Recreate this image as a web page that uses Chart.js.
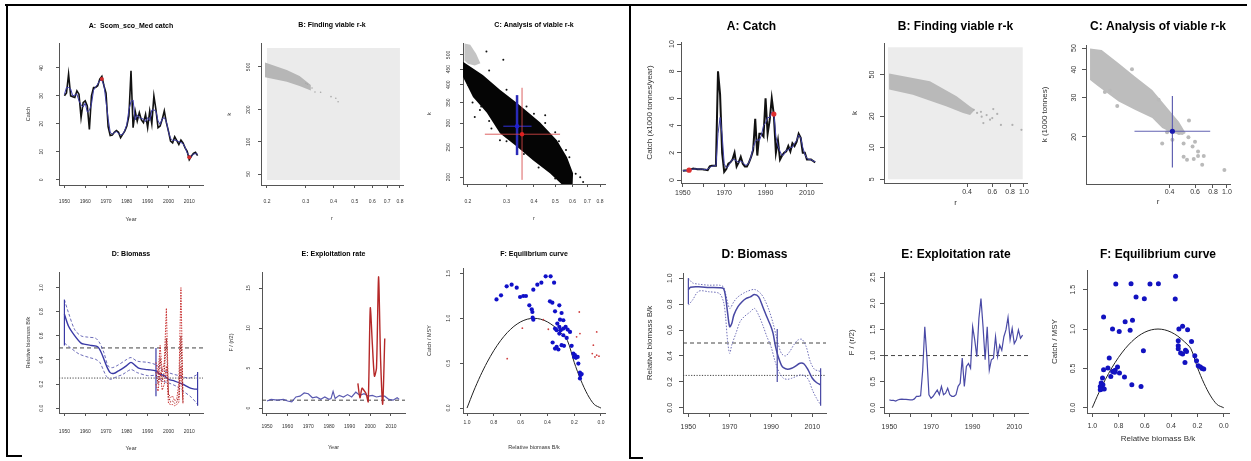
<!DOCTYPE html>
<html>
<head>
<meta charset="utf-8">
<script src="https://cdn.jsdelivr.net/npm/chart.js@4.4.1/dist/chart.umd.min.js"></script>
<style>
  html, body { margin: 0; padding: 0; background: #fff; }
  body { width: 1251px; height: 461px; position: relative; overflow: hidden; }
  canvas { position: absolute; }
  .rule { position: absolute; background: #000; }
</style>
</head>
<body>
<div class="rule" style="left:5px;top:4px;width:1242px;height:2px"></div>
<div class="rule" style="left:6px;top:4px;width:2px;height:453px"></div>
<div class="rule" style="left:6px;top:455px;width:16px;height:2px"></div>
<div class="rule" style="left:629px;top:4px;width:2px;height:455px"></div>
<div class="rule" style="left:629px;top:457px;width:14px;height:2px"></div>
<script>
// ──────────────────────────────────────────────
//  Datos: figura izquierda (Scom_sco_Med)
// ──────────────────────────────────────────────

const years = [
  1950, 1951, 1952, 1953, 1954, 1955, 1956, 1957, 1958, 1959,
  1960, 1961, 1962, 1963, 1964, 1965, 1966, 1967, 1968, 1969,
  1970, 1971, 1972, 1973, 1974, 1975, 1976, 1977, 1978, 1979,
  1980, 1981, 1982, 1983, 1984, 1985, 1986, 1987, 1988, 1989,
  1990, 1991, 1992, 1993, 1994, 1995, 1996, 1997, 1998, 1999,
  2000, 2001, 2002, 2003, 2004, 2005, 2006, 2007, 2008, 2009,
  2010, 2011, 2012, 2013, 2014,
];
const decadeTicks = [1950, 1960, 1970, 1980, 1990, 2000, 2010];

const catchL = [
  30, 31, 37.8, 30, 29.7, 29.4, 31.8, 30.6, 22.2, 27.6,
  28.2, 26.4, 18, 30, 33, 33, 33.6, 36, 37, 33.6,
  31, 19, 15.8, 16, 17, 17.6, 17, 15, 16.2, 17.4,
  19.2, 22.8, 39, 18.6, 24.6, 21, 24, 21.4, 20.4, 23.4,
  18.6, 24.6, 20, 30, 25, 18.6, 19.2, 21.6, 24.6, 20.4,
  17.4, 13.8, 13.2, 15.4, 14, 12.6, 14.2, 13.2, 11.4, 10.2,
  7.2, 8.4, 9.4, 9.8, 8.6,
];
const catchAvgL = [
  30.5, 33, 33, 32.5, 30, 30.3, 30.6, 28.2, 26.8, 26,
  27.4, 24.2, 24.8, 27, 32, 33.2, 34.2, 35.5, 35.5, 33.9,
  27.9, 21.9, 17, 16.3, 16.9, 17.2, 16.5, 16.1, 16.2, 17.6,
  19.8, 25, 28, 28.5, 21.4, 23.2, 22.1, 21.9, 21.7, 20.8,
  22.2, 21.1, 24.9, 25, 24.5, 21, 19.8, 21.8, 22.2, 20.8,
  17.2, 14.8, 14.1, 14.2, 14, 13.6, 13.3, 12.9, 11.6, 9.6,
  8.6, 8.3, 9.2, 9.3, 9.2,
];
const catchMarksL = [[1968, 36], [2010, 8]];

const priorBoxL = [[0.2, 44], [0.8, 44], [0.8, 750], [0.2, 750]];
const viableBandL = [[0.196, 550], [0.246, 469], [0.281, 412], [0.316, 340], [0.316, 301], [0.281, 332], [0.246, 364], [0.196, 400]];
const viableDotsL = [[0.33, 292], [0.35, 290], [0.39, 264], [0.41, 255], [0.42, 237], [0.32, 318], [0.305, 345], [0.3, 352]];

const cloudL = [
  [0.19, 475], [0.234, 430], [0.28, 385], [0.335, 349], [0.426, 302], [0.509, 264], [0.566, 232], [0.603, 206], [0.6, 188],
  [0.542, 188], [0.473, 206], [0.396, 227], [0.335, 251], [0.28, 278], [0.244, 324], [0.211, 365], [0.19, 424],
];
const cloudGreyL = [[0.193, 545], [0.205, 540], [0.218, 505], [0.228, 470], [0.215, 462], [0.2, 468], [0.193, 480]];
const cloudOutL = [
  [0.243, 513], [0.29, 482], [0.28, 264], [0.256, 288], [0.67, 193], [0.65, 200], [0.215, 314], [0.227, 331], [0.62, 205],
  [0.45, 318], [0.5, 280], [0.25, 445], [0.3, 385], [0.37, 340], [0.45, 300], [0.52, 262], [0.58, 232], [0.21, 350],
  [0.25, 305], [0.3, 262], [0.36, 238], [0.42, 215], [0.5, 198], [0.2, 400], [0.23, 340], [0.56, 245], [0.4, 322],
];
const bestRkL = [0.335, 293];
const bestRkRangeL = { r: [0.29, 0.39], k: [236, 370] };
const altRkL = [0.353, 276];
const altRkRangeL = { r: [0.239, 0.526], k: [196, 391] };

const bioYearsL = [1950, 1952, 1955, 1958, 1960, 1963, 1966, 1968, 1970, 1972, 1974, 1976, 1978, 1980, 1982, 1984, 1986, 1990, 1994, 1996, 1998, 2000, 2003, 2006, 2008, 2010, 2012, 2014];
const bioMedL = [0.78, 0.68, 0.6, 0.54, 0.53, 0.52, 0.51, 0.45, 0.36, 0.295, 0.29, 0.31, 0.33, 0.355, 0.38, 0.355, 0.33, 0.32, 0.31, 0.28, 0.27, 0.24, 0.225, 0.205, 0.19, 0.17, 0.16, 0.157];
const bioHiYearsL = [1950, 1952, 1955, 1958, 1961, 1965, 1967, 1969, 1971, 1973, 1976, 1980, 1982, 1985, 1990, 1994, 1997, 2000, 2005, 2010, 2014];
const bioHiL = [0.9, 0.79, 0.65, 0.6, 0.59, 0.58, 0.54, 0.46, 0.35, 0.336, 0.36, 0.405, 0.42, 0.39, 0.38, 0.36, 0.32, 0.295, 0.27, 0.25, 0.28];
const bioLoYearsL = [1950, 1953, 1957, 1962, 1965, 1967, 1970, 1972, 1975, 1978, 1982, 1985, 1990, 1994, 1997, 2000, 2004, 2008, 2011, 2014];
const bioLoL = [0.54, 0.5, 0.45, 0.42, 0.405, 0.38, 0.27, 0.24, 0.26, 0.28, 0.32, 0.295, 0.27, 0.27, 0.226, 0.21, 0.18, 0.13, 0.09, 0.033];
const bioBarsL = [[1950, 0.52, 0.9], [1994, 0.1, 0.5], [2014, 0.02, 0.3]];
const cpueYearsL = [1994, 1995, 1996, 1997, 1998, 1999, 2000, 2001, 2002, 2003, 2004, 2005, 2006, 2007];
const cpueMidL = [0.3, 0.2, 0.42, 0.22, 0.3, 0.58, 0.1, 0.05, 0.06, 0.04, 0.05, 0.1, 0.6, 0.05];
const cpueHiL = [0.38, 0.28, 0.52, 0.3, 0.38, 0.83, 0.12, 0.09, 0.1, 0.06, 0.08, 0.2, 1.0, 0.08];
const cpueLoL = [0.2, 0.14, 0.3, 0.15, 0.2, 0.35, 0.04, 0.03, 0.03, 0.02, 0.03, 0.05, 0.35, 0.03];

const fYearsL = [1950, 1952, 1955, 1958, 1960, 1962, 1964, 1966, 1968, 1970, 1972, 1974, 1976, 1978, 1980, 1981, 1982, 1983, 1985, 1987, 1989, 1991, 1993, 1995, 1997, 1999, 2001, 2003, 2005, 2007, 2009, 2011, 2013, 2014];
const fRateL = [0.9, 1.1, 1.0, 1.1, 0.9, 0.8, 1.4, 1.5, 1.9, 1.8, 1.3, 1.4, 1.1, 1.4, 1.1, 1.2, 2.1, 1.2, 1.6, 1.4, 1.7, 1.4, 2.0, 1.6, 1.8, 1.5, 1.6, 1.4, 1.5, 1.5, 1.1, 1.0, 1.3, 1.1];
const fCpueYearsL = [1994, 1995, 1996, 1997, 1998, 1999, 2000, 2001, 2002, 2003, 2004, 2005, 2006, 2007];
const fCpueL = [3.1, 1.3, 2.5, 2.2, 1.8, 0.8, 12.5, 8.0, 4.0, 5.0, 16.4, 6.0, 0.5, 8.7];

// curva de equilibrio (compartida por ambos paneles F)
const eqBk = [1.0, 0.95, 0.9, 0.85, 0.8, 0.75, 0.7, 0.65, 0.6, 0.55, 0.5, 0.45, 0.4, 0.35, 0.3, 0.25, 0.2, 0.15, 0.1, 0.05, 0.0];
const eqCatch = [0, 0.19, 0.36, 0.51, 0.64, 0.75, 0.84, 0.91, 0.96, 0.99, 1.0, 0.99, 0.96, 0.91, 0.84, 0.75, 0.51, 0.31, 0.15, 0.04, 0];

const eqPointsL = [
  [0.78, 1.21], [0.746, 1.256], [0.704, 1.356], [0.667, 1.374], [0.629, 1.341], [0.604, 1.237], [0.58, 1.248], [0.56, 1.248],
  [0.535, 1.144], [0.517, 1.1], [0.512, 1.07], [0.51, 1.007], [0.505, 0.985], [0.505, 1.319], [0.475, 1.374], [0.445, 1.396],
  [0.413, 1.467], [0.376, 1.467], [0.35, 1.396], [0.381, 1.189], [0.363, 1.174], [0.343, 1.078], [0.311, 1.144], [0.294, 1.059],
  [0.306, 0.985], [0.281, 0.978], [0.326, 0.941], [0.343, 0.885], [0.331, 0.867], [0.311, 0.904], [0.301, 0.867], [0.281, 0.885],
  [0.264, 0.904], [0.249, 0.874], [0.231, 0.848], [0.311, 0.83], [0.281, 0.811], [0.256, 0.781], [0.361, 0.73], [0.331, 0.681],
  [0.343, 0.663], [0.318, 0.652], [0.294, 0.7], [0.276, 0.693], [0.219, 0.693], [0.206, 0.607], [0.194, 0.589], [0.187, 0.559],
  [0.201, 0.57], [0.174, 0.57], [0.169, 0.496], [0.157, 0.396], [0.152, 0.367], [0.157, 0.33], [0.144, 0.378],
];
const eqCpueL = [[0.7, 0.55], [0.587, 0.89], [0.43, 0.985], [0.393, 0.878], [0.162, 1.07], [0.157, 0.83], [0.182, 0.793], [0.032, 0.848], [0.057, 0.7], [0.065, 0.607], [0.045, 0.57], [0.032, 0.589], [0.015, 0.578]];

// ──────────────────────────────────────────────
//  Datos: figura derecha
// ──────────────────────────────────────────────

const catchR = [
  0.68, 0.7, 0.7, 0.72, 0.78, 0.85, 0.82, 0.8, 0.8, 0.8,
  0.78, 0.75, 0.72, 1.0, 1.05, 1.05, 1.05, 8.0, 6.3, 2.0,
  0.6, 0.8, 1.2, 1.3, 1.5, 2.0, 1.0, 1.3, 1.7, 1.2,
  1.0, 1.0, 1.3, 1.7, 2.2, 4.5, 1.8, 3.4, 3.4, 3.2,
  6.0, 3.4, 4.4, 6.0, 4.8, 2.0, 2.9, 1.5, 1.8, 2.0,
  2.1, 2.5, 2.1, 2.7, 2.5, 2.8, 3.4, 3.1, 2.0, 2.0,
  1.5, 1.5, 1.5, 1.4, 1.3,
];
const catchAvgR = [
  0.69, 0.69, 0.7, 0.73, 0.77, 0.8, 0.82, 0.81, 0.8, 0.8,
  0.79, 0.76, 0.8, 0.92, 1.0, 1.05, 1.05, 3.4, 4.6, 3.3,
  1.2, 0.9, 1.0, 1.3, 1.5, 1.5, 1.4, 1.3, 1.4, 1.3,
  1.1, 1.1, 1.3, 1.7, 2.4, 2.8, 3.0, 2.9, 3.3, 4.0,
  4.2, 4.6, 4.6, 5.0, 4.9, 3.2, 2.5, 2.1, 1.8, 1.9,
  2.2, 2.2, 2.4, 2.4, 2.7, 2.9, 3.3, 3.1, 2.4, 1.9,
  1.6, 1.5, 1.5, 1.4, 1.35,
];
const catchMarksR = [[1953, 0.72], [1994, 4.85]];

const priorBoxR = [[0.112, 5], [0.98, 5], [0.98, 91], [0.112, 91]];
const viableBandR = [[0.114, 51], [0.22, 43], [0.338, 31], [0.42, 24.8], [0.454, 23], [0.42, 20.5], [0.375, 21.4], [0.288, 24.8], [0.167, 32.1], [0.114, 35.9]];
const viableDotsR = [[0.445, 23], [0.506, 19.8], [0.548, 20.5], [0.61, 23.4], [0.52, 17.2], [0.579, 18.5], [0.6, 19.2], [0.69, 16.5], [0.83, 16.5], [0.96, 14.8], [0.47, 21.5], [0.5, 22], [0.65, 21]];

const cloudR = [
  [0.112, 49.8], [0.135, 49], [0.177, 42.7], [0.231, 37.2], [0.303, 32.4], [0.396, 26.4], [0.464, 23.4], [0.517, 20.8],
  [0.49, 20.4], [0.418, 20.8], [0.355, 21.9], [0.303, 24.3], [0.231, 26.4], [0.177, 28.8], [0.128, 33.6], [0.112, 36],
];
const cloudDotsR = [
  [0.142, 31.8], [0.154, 32.2], [0.173, 27.5], [0.219, 40.2], [0.335, 29.3], [0.418, 22.2], [0.384, 21], [0.355, 18.7],
  [0.418, 19.4], [0.464, 20.8], [0.545, 23.7], [0.5, 18.7], [0.54, 19.9], [0.577, 18.1], [0.6, 19], [0.63, 17.2],
  [0.5, 16.3], [0.528, 15.8], [0.588, 15.9], [0.63, 16.4], [0.673, 15], [0.69, 16.4], [0.96, 14.2],
];
const bestRkR = [0.418, 21.2];
const bestRkRangeR = { r: [0.228, 0.765], k: [14.6, 30.5] };

const bioYearsR = [1950, 1951, 1955, 1960, 1965, 1967, 1968, 1969, 1970, 1971, 1972, 1974, 1976, 1978, 1980, 1982, 1984, 1986, 1988, 1990, 1991, 1992, 1993, 1994, 1995, 1996, 1998, 2000, 2002, 2004, 2006, 2008, 2010, 2012, 2014];
const bioMedR = [0.91, 0.93, 0.933, 0.928, 0.926, 0.92, 0.856, 0.73, 0.626, 0.65, 0.715, 0.78, 0.818, 0.844, 0.856, 0.874, 0.856, 0.78, 0.7, 0.626, 0.574, 0.485, 0.42, 0.37, 0.33, 0.31, 0.297, 0.305, 0.323, 0.344, 0.338, 0.29, 0.228, 0.195, 0.177];
const bioHiYearsR = [1950, 1952, 1955, 1960, 1965, 1967, 1968, 1970, 1972, 1974, 1978, 1982, 1985, 1987, 1989, 1991, 1993, 1995, 1997, 1999, 2001, 2003, 2005, 2007, 2009, 2011, 2013, 2014];
const bioHiR = [1.0, 0.964, 0.954, 0.946, 0.946, 0.933, 0.88, 0.767, 0.818, 0.856, 0.895, 0.913, 0.882, 0.831, 0.754, 0.651, 0.523, 0.42, 0.4, 0.433, 0.485, 0.523, 0.528, 0.472, 0.356, 0.297, 0.285, 0.28];
const bioLoYearsR = [1950, 1952, 1955, 1960, 1965, 1967, 1968, 1969, 1970, 1971, 1973, 1975, 1977, 1980, 1982, 1984, 1986, 1988, 1990, 1992, 1994, 1996, 1998, 2000, 2002, 2004, 2006, 2008, 2010, 2012, 2014];
const bioLoR = [0.792, 0.831, 0.9, 0.895, 0.882, 0.818, 0.703, 0.51, 0.42, 0.485, 0.574, 0.664, 0.703, 0.741, 0.767, 0.715, 0.638, 0.549, 0.472, 0.356, 0.272, 0.228, 0.22, 0.228, 0.241, 0.254, 0.249, 0.22, 0.138, 0.074, 0.023];
const bioBarsR = [[1950, 0.8, 1.0], [1993, 0.2, 0.608], [2014, 0.015, 0.305]];

const fRateR = [
  0.15, 0.14, 0.14, 0.13, 0.15, 0.16, 0.165, 0.16, 0.16, 0.155,
  0.15, 0.15, 0.17, 0.22, 0.22, 0.23, 0.72, 1.55, 0.98, 0.25,
  0.18, 0.22, 0.28, 0.34, 0.25, 0.41, 0.25, 0.28, 0.375, 0.25,
  0.22, 0.22, 0.25, 0.41, 0.47, 0.95, 0.41, 0.79, 0.85, 0.76,
  1.55, 1.3, 0.98, 1.71, 2.09, 1.55, 0.92, 1.55, 0.72, 0.92,
  0.95, 1.36, 0.98, 1.2, 1.1, 1.36, 1.49, 1.73, 1.3, 1.52,
  1.23, 1.3, 1.49, 1.33, 1.39,
];

const eqPointsR = [
  [0.914, 1.153], [0.821, 1.572], [0.705, 1.576], [0.561, 1.572], [0.497, 1.576], [0.366, 1.669], [0.667, 1.407], [0.604, 1.386],
  [0.369, 1.381], [0.75, 1.093], [0.694, 1.11], [0.846, 1.0], [0.795, 0.97], [0.712, 0.983], [0.611, 0.725], [0.341, 1.0],
  [0.313, 1.034], [0.275, 0.992], [0.245, 0.843], [0.346, 0.852], [0.346, 0.788], [0.346, 0.75], [0.328, 0.695], [0.313, 0.682],
  [0.291, 0.729], [0.283, 0.716], [0.295, 0.576], [0.22, 0.661], [0.207, 0.597], [0.194, 0.534], [0.177, 0.517], [0.164, 0.5],
  [0.152, 0.492], [0.871, 0.631], [0.881, 0.504], [0.859, 0.398], [0.838, 0.462], [0.826, 0.475], [0.808, 0.517], [0.793, 0.441],
  [0.755, 0.39], [0.699, 0.292], [0.629, 0.271], [0.914, 0.483], [0.922, 0.377], [0.932, 0.314], [0.919, 0.292], [0.939, 0.271],
  [0.927, 0.237], [0.909, 0.237], [0.939, 0.229], [0.845, 0.46], [0.83, 0.45],
];

// ──────────────────────────────────────────────
//  Helpers
// ──────────────────────────────────────────────

const FONT = "'Liberation Sans', Arial, Helvetica, sans-serif";
const AXIS_COL = '#555';
const TEXT_COL = '#333';
const SMALL = { tick: 5, axis: 5.5, title: 7, tl: 3 };
const BIG = { tick: 7, axis: 8, title: 12, tl: 4 };

const meter = document.createElement('canvas').getContext('2d');
function textWidth(str, size) {
  meter.font = `${size}px ${FONT}`;
  return meter.measureText(str).width;
}

const toXY = (xs, ys) => xs.map((x, i) => ({ x, y: ys[i] }));
const toPts = arr => arr.map(([x, y]) => ({ x, y }));
const dec1 = v => v.toFixed(1);
const plain = v => String(v);
const everyOther = v => ((v - 1950) % 20 === 0 ? String(v) : '');

function serie(data, color, width, dash) {
  return { data, showLine: true, borderColor: color, borderWidth: width, borderDash: dash || [], pointRadius: 0, fill: false };
}
function dots(data, color, radius) {
  return { data, showLine: false, pointRadius: radius, pointBackgroundColor: color, pointBorderWidth: 0, pointBorderColor: color };
}
function patch(data, color) {
  return { data, showLine: true, fill: 'shape', backgroundColor: color, borderColor: 'rgba(0,0,0,0)', borderWidth: 0, pointRadius: 0 };
}
function hline(y, x0, x1, color, dash) {
  return serie([{ x: x0, y }, { x: x1, y }], color, 1, dash);
}
function vbar(x, y0, y1, color, width) {
  return serie([{ x, y: y0 }, { x, y: y1 }], color, width);
}

// ──────────────────────────────────────────────
//  Constructor de cada panel
// ──────────────────────────────────────────────

function panel(spec, datasets) {
  const s = spec.big ? BIG : SMALL;
  const [l, t, r, b] = spec.area;
  const cl = spec.yTitleX - 8;
  const ct = spec.titleY - 10;
  const cr = r + 6;
  const cb = (spec.xTitle ? spec.xTitleY : spec.xTickY) + 8;

  const cv = document.createElement('canvas');
  cv.width = cr - cl;
  cv.height = cb - ct;
  cv.style.left = cl + 'px';
  cv.style.top = ct + 'px';
  document.body.appendChild(cv);

  const titleLH = s.title * 1.2;
  const axisLH = s.axis * 1.2;
  const tickLH = s.tick * 1.2;
  const titlePadTop = spec.titleY - ct - titleLH / 2;
  const titlePadBottom = t - ct - titlePadTop - titleLH;
  const widest = Math.max(...spec.yTicks.map(v => textWidth(spec.yFmt(v), s.tick)));
  const yPad = l - spec.yTickX - s.tl - widest / 2;
  const xPad = spec.xTickY - b - s.tl - tickLH / 2;

  const grid = { display: true, drawOnChartArea: false, drawTicks: true, tickLength: s.tl, color: AXIS_COL, lineWidth: 1 };
  const border = { display: true, color: AXIS_COL, width: 1 };
  const tickFont = { family: FONT, size: s.tick };
  const axisFont = { family: FONT, size: s.axis };
  const zeroPad = sc => { sc.paddingLeft = 0; sc.paddingRight = 0; sc.paddingTop = 0; sc.paddingBottom = 0; };
  const n = datasets.length;

  return new Chart(cv, {
    type: 'scatter',
    data: { datasets: datasets.map((d, i) => Object.assign({ order: n - i }, d)) },
    options: {
      responsive: false,
      animation: false,
      events: [],
      layout: { padding: { left: 0, top: 0, bottom: 0, right: cr - r } },
      plugins: {
        legend: { display: false },
        tooltip: { enabled: false },
        title: {
          display: true, text: spec.title, fullSize: false, color: '#000',
          font: { family: FONT, size: s.title, weight: 'bold', lineHeight: 1.2 },
          padding: { top: titlePadTop, bottom: titlePadBottom },
        },
      },
      scales: {
        x: {
          type: spec.xType || 'linear', min: spec.xMin, max: spec.xMax, reverse: !!spec.xReverse,
          border, grid,
          ticks: { autoSkip: false, minRotation: 0, maxRotation: 0, padding: xPad, color: TEXT_COL, font: tickFont, callback: v => spec.xFmt(v) },
          afterBuildTicks: sc => { sc.ticks = spec.xTicks.map(v => ({ value: v })); },
          afterFit: sc => { sc.height = cb - b; zeroPad(sc); },
          title: {
            display: !!spec.xTitle, text: spec.xTitle || '', color: TEXT_COL, font: axisFont,
            padding: { top: 0, bottom: cb - (spec.xTitleY || 0) - axisLH / 2 },
          },
        },
        y: {
          type: spec.yType || 'linear', min: spec.yMin, max: spec.yMax,
          border, grid,
          ticks: { autoSkip: false, minRotation: 90, maxRotation: 90, crossAlign: 'center', padding: yPad, color: TEXT_COL, font: tickFont, callback: v => spec.yFmt(v) },
          afterBuildTicks: sc => { sc.ticks = spec.yTicks.map(v => ({ value: v })); },
          afterFit: sc => { sc.width = l - cl; zeroPad(sc); },
          title: {
            display: true, text: spec.yTitle, color: TEXT_COL, font: axisFont,
            padding: { top: spec.yTitleX - cl - axisLH / 2, bottom: 0 },
          },
        },
      },
    },
  });
}

// ──────────────────────────────────────────────
//  Figura izquierda
// ──────────────────────────────────────────────

const BLUE = '#3a3aa6';
const SOFT_BLUE = '#5a5ab0';
const RED = '#d02a2a';

panel({
  title: 'A:  Scom_sco_Med catch', area: [59, 43, 203, 185], titleY: 26,
  yTitle: 'Catch', yTitleX: 28, yTickX: 42, yMin: -1.88, yMax: 48.9, yTicks: [0, 10, 20, 30, 40], yFmt: plain,
  xTitle: 'Year', xTitleY: 219, xTickY: 202, xMin: 1947.4, xMax: 2016.6, xTicks: decadeTicks, xFmt: plain,
}, [
  serie(toXY(years, catchL), '#111', 1.6),
  serie(toXY(years, catchAvgL), BLUE, 1),
  dots(toPts(catchMarksL), RED, 2),
]);

panel({
  title: 'B: Finding viable r-k', area: [261, 43, 403, 185], titleY: 25,
  yTitle: 'k', yTitleX: 229, yTickX: 249, yType: 'logarithmic', yMin: 39.5, yMax: 837, yTicks: [50, 100, 200, 500], yFmt: plain,
  xTitle: 'r', xTitleY: 218, xTickY: 202, xType: 'logarithmic', xMin: 0.188, xMax: 0.826, xTicks: [0.2, 0.3, 0.4, 0.5, 0.6, 0.7, 0.8], xFmt: dec1,
}, [
  patch(toPts(priorBoxL), '#ebebeb'),
  patch(toPts(viableBandL), '#b6b6b6'),
  dots(toPts(viableDotsL), '#a8a8a8', 0.8),
]);

panel({
  title: 'C: Analysis of viable r-k', area: [463, 43, 605, 184], titleY: 25,
  yTitle: 'k', yTitleX: 429, yTickX: 449, yType: 'logarithmic', yMin: 190, yMax: 547, yTicks: [200, 250, 300, 350, 400, 450, 500], yFmt: plain,
  xTitle: 'r', xTitleY: 218, xTickY: 202, xType: 'logarithmic', xMin: 0.19, xMax: 0.843, xTicks: [0.2, 0.3, 0.4, 0.5, 0.6, 0.7, 0.8], xFmt: dec1,
}, [
  patch(toPts(cloudGreyL), '#c4c4c4'),
  patch(toPts(cloudL), '#050505'),
  dots(toPts(cloudOutL), '#111', 1),
  serie([{ x: bestRkL[0], y: bestRkRangeL.k[0] }, { x: bestRkL[0], y: bestRkRangeL.k[1] }], '#2a2ab8', 2.5),
  serie([{ x: bestRkRangeL.r[0], y: bestRkL[1] }, { x: bestRkRangeL.r[1], y: bestRkL[1] }], '#2a2ab8', 1.2),
  serie([{ x: altRkL[0], y: altRkRangeL.k[0] }, { x: altRkL[0], y: altRkRangeL.k[1] }], 'rgba(215,70,70,0.85)', 1),
  serie([{ x: altRkRangeL.r[0], y: altRkL[1] }, { x: altRkRangeL.r[1], y: altRkL[1] }], 'rgba(215,70,70,0.85)', 1),
  dots(toPts([bestRkL]), '#2020d0', 2.2),
  dots(toPts([altRkL]), '#e02020', 2.2),
]);

panel({
  title: 'D: Biomass', area: [59, 272, 203, 413], titleY: 254,
  yTitle: 'Relative biomass B/k', yTitleX: 28, yTickX: 42, yMin: -0.04, yMax: 1.13, yTicks: [0, 0.2, 0.4, 0.6, 0.8, 1.0], yFmt: dec1,
  xTitle: 'Year', xTitleY: 448, xTickY: 432, xMin: 1947.4, xMax: 2016.6, xTicks: decadeTicks, xFmt: plain,
}, [
  hline(0.5, 1947.4, 2016.6, '#444', [4, 3]),
  hline(0.25, 1947.4, 2016.6, '#444', [1.2, 1.5]),
  Object.assign(serie(toXY(bioLoYearsL, bioLoL), SOFT_BLUE, 0.9, [3, 2]), { tension: 0.3 }),
  Object.assign(serie(toXY(bioHiYearsL, bioHiL), SOFT_BLUE, 0.9, [3, 2]), { tension: 0.3 }),
  Object.assign(serie(toXY(bioYearsL, bioMedL), BLUE, 1.4), { tension: 0.3 }),
  ...bioBarsL.map(([x, y0, y1]) => vbar(x, y0, y1, BLUE, 1.2)),
  serie(toXY(cpueYearsL, cpueHiL), '#c83030', 1, [1.5, 1.2]),
  serie(toXY(cpueYearsL, cpueLoL), '#c83030', 1, [1.5, 1.2]),
  serie(toXY(cpueYearsL, cpueMidL), '#a01818', 1, [1.5, 1.2]),
]);

panel({
  title: 'E: Exploitation rate', area: [262, 272, 405, 413], titleY: 254,
  yTitle: 'F / (r/2)', yTitleX: 231, yTickX: 249, yMin: -0.6, yMax: 17, yTicks: [0, 5, 10, 15], yFmt: plain,
  xTitle: 'Year', xTitleY: 447, xTickY: 427, xMin: 1947.6, xMax: 2016.8, xTicks: decadeTicks, xFmt: plain,
}, [
  hline(1.0, 1947.6, 2016.8, '#444', [4, 3]),
  serie(toXY(fYearsL, fRateL), SOFT_BLUE, 1.2),
  Object.assign(serie(toXY(fCpueYearsL, fCpueL), '#b52828', 1.4), { tension: 0.25 }),
]);

panel({
  title: 'F: Equilibrium curve', area: [463, 268, 605, 413], titleY: 254,
  yTitle: 'Catch / MSY', yTitleX: 429, yTickX: 449, yMin: -0.055, yMax: 1.56, yTicks: [0, 0.5, 1.0, 1.5], yFmt: dec1,
  xTitle: 'Relative biomass B/k', xTitleY: 447, xTickY: 423, xMin: -0.03, xMax: 1.03, xReverse: true, xTicks: [1.0, 0.8, 0.6, 0.4, 0.2, 0.0], xFmt: dec1,
}, [
  Object.assign(serie(toXY(eqBk, eqCatch), '#222', 1), { tension: 0.3 }),
  dots(toPts(eqCpueL), '#d04040', 0.9),
  dots(toPts(eqPointsL), '#1010c8', 2.1),
]);

// ──────────────────────────────────────────────
//  Figura derecha
// ──────────────────────────────────────────────

panel({
  big: true, title: 'A: Catch', area: [681, 42, 822, 183], titleY: 27,
  yTitle: 'Catch (x1000 tonnes/year)', yTitleX: 650, yTickX: 672, yMin: -0.22, yMax: 10.15, yTicks: [0, 2, 4, 6, 8, 10], yFmt: plain,
  xTickY: 193, xMin: 1949.1, xMax: 2017.3, xTicks: decadeTicks, xFmt: everyOther,
}, [
  serie(toXY(years, catchR), '#111', 2),
  serie(toXY(years, catchAvgR), '#4040a8', 1),
  dots(toPts(catchMarksR), '#e03030', 2.6),
]);

panel({
  big: true, title: 'B: Finding viable r-k', area: [884, 43, 1027, 183], titleY: 27,
  yTitle: 'k', yTitleX: 855, yTickX: 872, yType: 'logarithmic', yMin: 4.6, yMax: 100, yTicks: [5, 10, 20, 50], yFmt: plain,
  xTitle: 'r', xTitleY: 203, xTickY: 192, xType: 'logarithmic', xMin: 0.105, xMax: 1.05, xTicks: [0.4, 0.6, 0.8, 1.0], xFmt: dec1,
}, [
  patch(toPts(priorBoxR), '#ececec'),
  patch(toPts(viableBandR), '#b9b9b9'),
  dots(toPts(viableDotsR), '#b0b0b0', 1.1),
]);

panel({
  big: true, title: 'C: Analysis of viable r-k', area: [1086, 45, 1230, 184], titleY: 27,
  yTitle: 'k (1000 tonnes)', yTitleX: 1045, yTickX: 1074, yType: 'logarithmic', yMin: 12.3, yMax: 51.6, yTicks: [20, 30, 40, 50], yFmt: plain,
  xTitle: 'r', xTitleY: 202, xTickY: 192, xType: 'logarithmic', xMin: 0.105, xMax: 1.05, xTicks: [0.4, 0.6, 0.8, 1.0], xFmt: dec1,
}, [
  patch(toPts(cloudR), '#bdbdbd'),
  dots(toPts(cloudDotsR), '#bababa', 2),
  serie([{ x: bestRkR[0], y: bestRkRangeR.k[0] }, { x: bestRkR[0], y: bestRkRangeR.k[1] }], '#6262b2', 1.2),
  serie([{ x: bestRkRangeR.r[0], y: bestRkR[1] }, { x: bestRkRangeR.r[1], y: bestRkR[1] }], '#6262b2', 1.2),
  dots(toPts([bestRkR]), '#1a1ab0', 2.6),
]);

panel({
  big: true, title: 'D: Biomass', area: [683, 273, 826, 413], titleY: 255,
  yTitle: 'Relative biomass B/k', yTitleX: 650, yTickX: 670, yMin: -0.04, yMax: 1.04, yTicks: [0, 0.2, 0.4, 0.6, 0.8, 1.0], yFmt: dec1,
  xTickY: 427, xMin: 1947.4, xMax: 2016.6, xTicks: decadeTicks, xFmt: everyOther,
}, [
  hline(0.5, 1947.4, 2016.6, '#444', [4, 3]),
  hline(0.25, 1947.4, 2016.6, '#444', [1.2, 1.5]),
  Object.assign(serie(toXY(bioLoYearsR, bioLoR), '#7070b8', 1, [1.5, 1.5]), { tension: 0.3 }),
  Object.assign(serie(toXY(bioHiYearsR, bioHiR), '#7070b8', 1, [1.5, 1.5]), { tension: 0.3 }),
  Object.assign(serie(toXY(bioYearsR, bioMedR), '#4848a4', 1.5), { tension: 0.3 }),
  ...bioBarsR.map(([x, y0, y1]) => vbar(x, y0, y1, '#4848a4', 1.2)),
]);

panel({
  big: true, title: 'E: Exploitation rate', area: [884, 272, 1028, 413], titleY: 255,
  yTitle: 'F / (r/2)', yTitleX: 852, yTickX: 873, yMin: -0.1, yMax: 2.6, yTicks: [0, 0.5, 1.0, 1.5, 2.0, 2.5], yFmt: dec1,
  xTickY: 427, xMin: 1947.4, xMax: 2016.6, xTicks: decadeTicks, xFmt: everyOther,
}, [
  hline(1.0, 1947.4, 2016.6, '#444', [4, 3]),
  serie(toXY(years, fRateR), '#4a4aa6', 1.2),
]);

panel({
  big: true, title: 'F: Equilibrium curve', area: [1087, 270, 1229, 413], titleY: 255,
  yTitle: 'Catch / MSY', yTitleX: 1055, yTickX: 1073, yMin: -0.067, yMax: 1.75, yTicks: [0, 0.5, 1.0, 1.5], yFmt: dec1,
  xTitle: 'Relative biomass B/k', xTitleY: 439, xTickY: 426, xMin: -0.04, xMax: 1.04, xReverse: true, xTicks: [1.0, 0.8, 0.6, 0.4, 0.2, 0.0], xFmt: dec1,
}, [
  Object.assign(serie(toXY(eqBk, eqCatch), '#222', 1), { tension: 0.3 }),
  dots(toPts(eqPointsR), '#1212c0', 2.5),
]);
</script>
</body>
</html>
